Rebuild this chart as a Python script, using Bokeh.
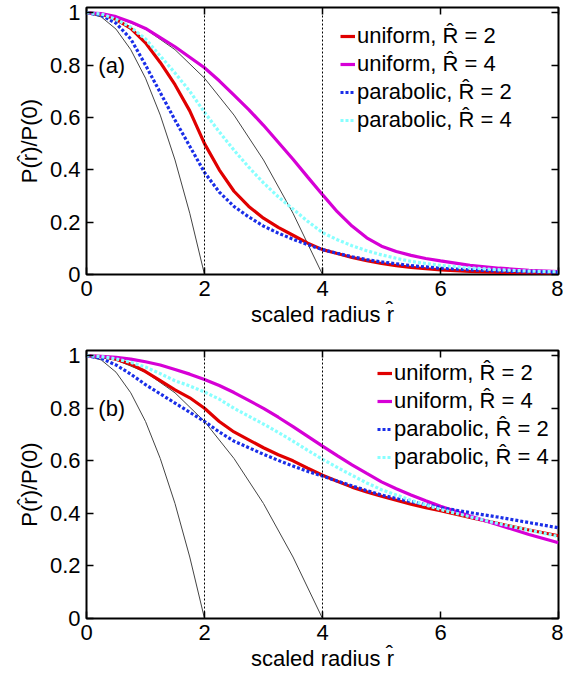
from bokeh.plotting import figure
from bokeh.layouts import column
from bokeh.models import LinearAxis, FixedTicker, Span, Label, Range1d
from bokeh.embed import file_html
from bokeh.resources import INLINE

# ---------------- data ----------------
r_grid = [0, 0.25, 0.5, 0.75, 1.0, 1.25, 1.5, 1.75, 2.0, 2.25, 2.5, 2.75, 3.0,
          3.25, 3.5, 3.75, 4.0, 4.25, 4.5, 4.75, 5.0, 5.25, 5.5, 5.75, 6.0,
          6.5, 7.0, 7.5, 8.0]

# panel (a)
a_uniform_R2 = [1.0, 0.995, 0.975, 0.94, 0.885, 0.81, 0.725, 0.625, 0.50, 0.40, 0.318,
                0.26, 0.215, 0.18, 0.15, 0.12, 0.095, 0.08, 0.065, 0.053, 0.042,
                0.034, 0.027, 0.022, 0.018, 0.012, 0.008, 0.006, 0.004]
a_uniform_R4 = [1.0, 0.997, 0.985, 0.965, 0.94, 0.905, 0.87, 0.83, 0.79, 0.74, 0.685,
                0.63, 0.57, 0.505, 0.44, 0.372, 0.305, 0.24, 0.185, 0.14, 0.108,
                0.088, 0.073, 0.061, 0.052, 0.035, 0.024, 0.016, 0.011]
a_parabolic_R2 = [1.0, 0.99, 0.96, 0.90, 0.80, 0.695, 0.59, 0.49, 0.39, 0.315, 0.26,
                  0.22, 0.185, 0.158, 0.135, 0.114, 0.095, 0.081, 0.068, 0.057, 0.048,
                  0.041, 0.034, 0.029, 0.024, 0.018, 0.013, 0.010, 0.008]
a_parabolic_R4 = [1.0, 0.995, 0.975, 0.945, 0.90, 0.835, 0.77, 0.70, 0.62, 0.545, 0.475,
                  0.41, 0.35, 0.297, 0.25, 0.203, 0.16, 0.133, 0.11, 0.091, 0.075,
                  0.062, 0.05, 0.042, 0.035, 0.025, 0.018, 0.013, 0.01]

# panel (b)
b_uniform_R2 = [1.0, 0.997, 0.987, 0.968, 0.94, 0.905, 0.87, 0.84, 0.80, 0.75, 0.71,
                0.68, 0.65, 0.623, 0.60, 0.572, 0.545, 0.522, 0.50, 0.482, 0.465,
                0.45, 0.435, 0.422, 0.41, 0.385, 0.36, 0.337, 0.315]
b_uniform_R4 = [1.0, 0.998, 0.994, 0.987, 0.977, 0.965, 0.948, 0.93, 0.91, 0.887, 0.86,
                0.83, 0.80, 0.766, 0.73, 0.693, 0.656, 0.62, 0.585, 0.552, 0.52,
                0.494, 0.47, 0.448, 0.427, 0.39, 0.355, 0.32, 0.288]
b_parabolic_R2 = [1.0, 0.99, 0.965, 0.93, 0.89, 0.855, 0.82, 0.785, 0.75, 0.71, 0.675,
                  0.65, 0.625, 0.602, 0.58, 0.56, 0.542, 0.523, 0.505, 0.487, 0.47,
                  0.457, 0.445, 0.433, 0.422, 0.403, 0.385, 0.365, 0.345]
b_parabolic_R4 = [1.0, 0.997, 0.988, 0.975, 0.957, 0.932, 0.905, 0.885, 0.862, 0.835, 0.80,
                  0.77, 0.74, 0.708, 0.675, 0.64, 0.606, 0.575, 0.545, 0.516, 0.49,
                  0.47, 0.45, 0.432, 0.415, 0.387, 0.36, 0.336, 0.312]

# thin reference curves (same in both panels)
ref_r_R2 = [0, 0.25, 0.5, 0.75, 1.0, 1.25, 1.5, 1.75, 2.0]
ref_v_R2 = [1.0, 0.984, 0.9375, 0.859, 0.75, 0.609, 0.4375, 0.234, 0.0]
ref_r_R4 = [0, 0.5, 1.0, 1.5, 2.0, 2.5, 3.0, 3.5, 4.0]
ref_v_R4 = [1.0, 0.984, 0.9375, 0.859, 0.75, 0.609, 0.4375, 0.234, 0.0]

R_marks = [2, 4]
x_ticks = [0, 2, 4, 6, 8]
y_ticks = [0, 0.2, 0.4, 0.6, 0.8, 1]
y_tick_labels = {0: "0", 0.2: "0.2", 0.4: "0.4", 0.6: "0.6", 0.8: "0.8", 1: "1"}
series_labels = ["uniform, R\u0302 = 2", "uniform, R\u0302 = 4",
                 "parabolic, R\u0302 = 2", "parabolic, R\u0302 = 4"]
panel_tags = ["(a)", "(b)"]

FONT = "Liberation Sans"
FS = "22px"


def make_panel(tag, series, height, btop, bbottom, leg_loc):
    p = figure(width=563, height=height, output_backend="svg", toolbar_location=None,
               x_range=Range1d(0, 8), y_range=Range1d(0, 1.02),
               min_border_left=86, min_border_right=5,
               min_border_top=btop, min_border_bottom=bbottom,
               x_axis_label="scaled radius r\u0302",
               y_axis_label="P(r\u0302)/P(0)")
    p.grid.visible = False
    p.outline_line_color = "black"
    p.outline_line_width = 2
    p.background_fill_color = "white"

    for ax in (p.xaxis[0], p.yaxis[0]):
        ax.axis_line_color = None
        ax.major_tick_in = 7
        ax.major_tick_out = 0
        ax.major_tick_line_width = 1.5
        ax.minor_tick_line_color = None
        ax.major_label_text_font = FONT
        ax.major_label_text_font_size = FS
        ax.major_label_text_color = "black"
        ax.axis_label_text_font = FONT
        ax.axis_label_text_font_size = FS
        ax.axis_label_text_font_style = "normal"
        ax.axis_label_text_color = "black"
        ax.major_label_standoff = 6
        ax.axis_label_standoff = 3
    p.yaxis[0].axis_label_standoff = 5
    p.xaxis[0].ticker = FixedTicker(ticks=x_ticks)
    p.yaxis[0].ticker = FixedTicker(ticks=y_ticks)
    p.yaxis[0].major_label_overrides = y_tick_labels

    for side, tk in (("right", y_ticks), ("above", x_ticks)):
        ax = LinearAxis(ticker=FixedTicker(ticks=tk))
        ax.axis_line_color = None
        ax.major_tick_in = 7
        ax.major_tick_out = 0
        ax.major_tick_line_width = 1.5
        ax.minor_tick_line_color = None
        ax.major_label_text_font_size = "0px"
        ax.major_label_standoff = 0
        ax.major_label_text_color = None
        p.add_layout(ax, side)

    for R in R_marks:
        p.add_layout(Span(location=R, dimension="height", line_color="black",
                          line_width=1, line_dash="2 2"))

    p.line(ref_r_R2, ref_v_R2, line_color="#444444", line_width=1)
    p.line(ref_r_R4, ref_v_R4, line_color="#444444", line_width=1)

    styles = [("#e00000", "solid"), ("#d600d6", "solid"),
              ("#1a2ee8", "3 2"), ("#88ffff", "3 2")]
    for i in range(4):
        col, dash = styles[i]
        p.line(r_grid, series[i], line_color=col, line_width=3.2, line_dash=dash,
               legend_label=series_labels[i])

    p.add_layout(Label(x=0.2, y=0.8, text=tag, text_font=FONT, text_font_size=FS,
                       text_baseline="middle", text_align="left", text_color="black"))

    lg = p.legend[0]
    lg.location = leg_loc
    lg.padding = 0
    lg.margin = 0
    lg.spacing = 0
    lg.label_height = 28
    lg.glyph_height = 28
    lg.glyph_width = 15
    lg.label_standoff = 2
    lg.border_line_color = None
    lg.background_fill_alpha = 0
    lg.label_text_font = FONT
    lg.label_text_font_size = FS
    lg.label_text_color = "black"
    return p


pa = make_panel(panel_tags[0], [a_uniform_R2, a_uniform_R4, a_parabolic_R2, a_parabolic_R4],
                335, 7, 61, (254, 140))
pb = make_panel(panel_tags[1], [b_uniform_R2, b_uniform_R4, b_parabolic_R2, b_parabolic_R4],
                346, 15, 63, (291, 147))

layout = column(pa, pb, spacing=0)
open("out.html", "w").write(file_html(layout, INLINE))
